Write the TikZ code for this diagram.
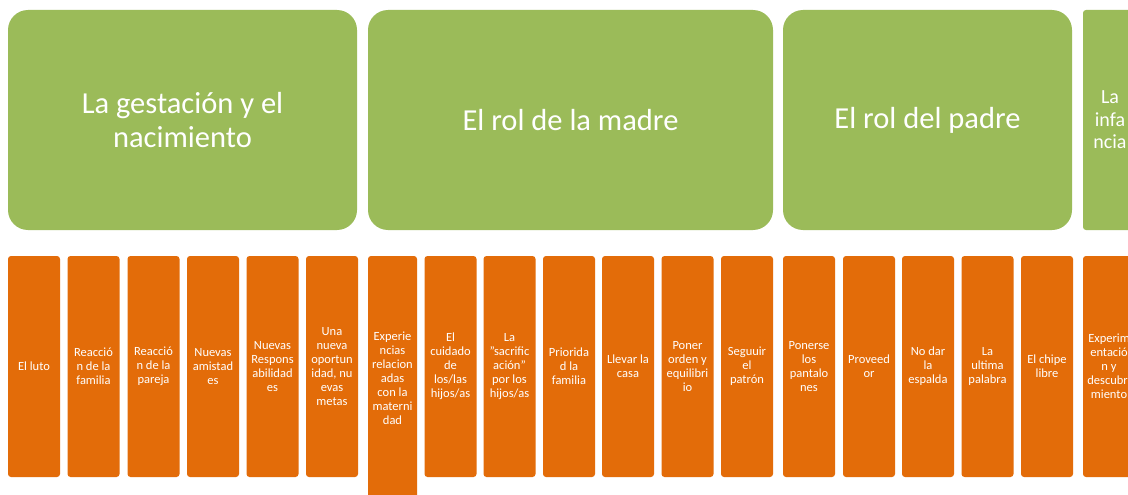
\documentclass[tikz,border=0pt]{standalone}
\usepackage{fontspec}
\setmainfont{Carlito}[Ligatures=ResetAll]
\definecolor{olivegreen}{HTML}{9BBB59}
\definecolor{darkorange}{HTML}{E36C09}
\tikzset{
  gbox/.style={fill=olivegreen, draw=none, rounded corners=20pt, inner sep=0pt,
    text=white, align=center, font=\fontsize{30.5}{33.7}\selectfont},
  obox/.style={fill=darkorange, draw=none, rounded corners=3pt, inner sep=0pt,
    minimum width=52pt, minimum height=221pt,
    text=white, align=center, font=\fontsize{12.5}{14}\selectfont},
}
\begin{document}
\begin{tikzpicture}[x=1pt,y=-1pt]
\useasboundingbox (0,0) rectangle (1128,495);
\clip (0,0) rectangle (1128,495);
\fill[white] (0,0) rectangle (1128,495);
% green headers
\node[gbox, minimum width=349pt, minimum height=220pt] (g1) at (182.5,120) {La gestación y el\\nacimiento};
\node[gbox, minimum width=405pt, minimum height=220pt] (g2) at (570.5,120) {El rol de la madre};
\node[gbox, minimum width=289pt, minimum height=220pt] (g3) at (927.5,120) {El rol del padre};
\node[gbox, rounded corners=3pt, minimum width=54pt, minimum height=220pt,
  font=\fontsize{20}{22.5}\selectfont] (g4) at (1110,120) {La\\infa\\ncia};
% orange items
\node[obox] (o1) at (34,366.5) {El luto};
\node[obox] (o2) at (93.5,366.5) {Reacció\\n de la\\familia};
\node[obox] (o3) at (153.5,366.5) {Reacció\\n de la\\pareja};
\node[obox] (o4) at (213,366.5) {Nuevas\\amistad\\es};
\node[obox] (o5) at (272.5,366.5) {Nuevas\\Respons\\abilidad\\es};
\node[obox] (o6) at (332,366.5) {Una\\nueva\\oportun\\idad, nu\\evas\\metas};
\node[obox, minimum width=49pt, minimum height=244pt] (o7) at (392.5,378) {Experie\\ncias\\relacion\\adas\\con la\\materni\\dad};
\node[obox] (o8) at (450.5,366.5) {El\\cuidado\\de\\los/las\\hijos/as};
\node[obox] (o9) at (509.5,366.5) {La\\"sacrific\\ación"\\por los\\hijos/as};
\node[obox] (o10) at (569,366.5) {Priorida\\d la\\familia};
\node[obox] (o11) at (628,366.5) {Llevar la\\casa};
\node[obox] (o12) at (687.5,366.5) {Poner\\orden y\\equilibri\\io};
\node[obox] (o13) at (747,366.5) {Seguuir\\el\\patrón};
\node[obox] (o14) at (809,366.5) {Ponerse\\los\\pantalo\\nes};
\node[obox] (o15) at (869,366.5) {Proveed\\or};
\node[obox] (o16) at (928,366.5) {No dar\\la\\espalda};
\node[obox] (o17) at (987.5,366.5) {La\\ultima\\palabra};
\node[obox] (o18) at (1047,366.5) {El chipe\\libre};
\node[obox] (o19) at (1109,366.5) {Experim\\entació\\n y\\descubri\\miento};
\end{tikzpicture}
\end{document}
